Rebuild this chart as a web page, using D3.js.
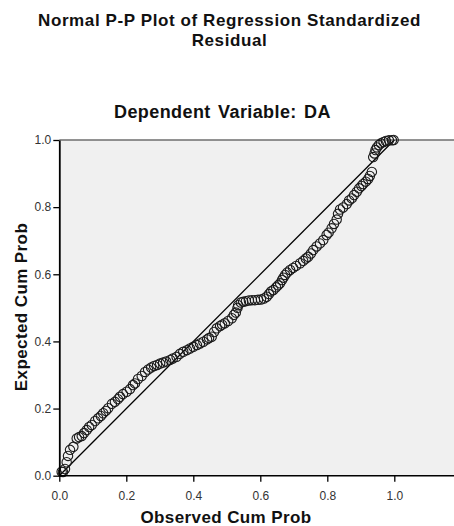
<!DOCTYPE html>
<html>
<head>
<meta charset="utf-8">
<script src="https://cdn.jsdelivr.net/npm/d3@7"></script>
<style>
  body { margin: 0; background: #fff; }
  text { font-family: "Liberation Sans", Arial, sans-serif; }
</style>
</head>
<body>
<svg id="chart" width="454" height="526"></svg>
<script>
// observed cum prob (x) and expected cum prob (y)
var observed = [
  0.007, 0.011, 0.017, 0.022, 0.026, 0.032, 0.042, 0.052, 0.059, 0.067,
  0.074, 0.082, 0.089, 0.097, 0.107, 0.116, 0.124, 0.131, 0.139, 0.146,
  0.157, 0.166, 0.175, 0.181, 0.190, 0.201, 0.211, 0.220, 0.226, 0.235,
  0.246, 0.256, 0.265, 0.274, 0.283, 0.292, 0.301, 0.310, 0.319, 0.331,
  0.339, 0.350, 0.360, 0.370, 0.381, 0.390, 0.400, 0.411, 0.420, 0.430,
  0.441, 0.447, 0.455, 0.462, 0.470, 0.480, 0.486, 0.494, 0.504, 0.515,
  0.521, 0.527, 0.532, 0.534, 0.542, 0.549, 0.557, 0.566, 0.575, 0.584,
  0.593, 0.602, 0.611, 0.619, 0.626, 0.632, 0.639, 0.647, 0.653, 0.659,
  0.665, 0.669, 0.674, 0.680, 0.689, 0.698, 0.707, 0.719, 0.728, 0.736,
  0.743, 0.751, 0.758, 0.768, 0.778, 0.788, 0.798, 0.804, 0.813, 0.820,
  0.828, 0.832, 0.838, 0.847, 0.858, 0.865, 0.873, 0.880, 0.888, 0.895,
  0.902, 0.907, 0.915, 0.922, 0.927, 0.933, 0.937, 0.941, 0.944, 0.948,
  0.954, 0.960, 0.968, 0.975, 0.984, 0.993, 0.998
];
var expected = [
  0.012, 0.011, 0.020, 0.040, 0.059, 0.077, 0.086, 0.111, 0.115, 0.118,
  0.127, 0.136, 0.145, 0.151, 0.163, 0.171, 0.178, 0.186, 0.193, 0.201,
  0.214, 0.220, 0.228, 0.235, 0.243, 0.250, 0.258, 0.270, 0.275, 0.288,
  0.297, 0.309, 0.316, 0.322, 0.327, 0.330, 0.334, 0.337, 0.340, 0.345,
  0.349, 0.354, 0.363, 0.369, 0.374, 0.379, 0.384, 0.389, 0.394, 0.399,
  0.406, 0.410, 0.414, 0.428, 0.439, 0.446, 0.450, 0.454, 0.461, 0.469,
  0.479, 0.486, 0.500, 0.508, 0.516, 0.518, 0.520, 0.522, 0.523, 0.523,
  0.524, 0.525, 0.528, 0.533, 0.541, 0.549, 0.553, 0.561, 0.567, 0.573,
  0.583, 0.590, 0.598, 0.605, 0.613, 0.619, 0.625, 0.633, 0.640, 0.647,
  0.652, 0.662, 0.672, 0.683, 0.692, 0.702, 0.717, 0.724, 0.737, 0.750,
  0.763, 0.780, 0.793, 0.799, 0.809, 0.820, 0.826, 0.836, 0.846, 0.856,
  0.863, 0.869, 0.876, 0.884, 0.893, 0.905, 0.949, 0.960, 0.970, 0.978,
  0.985, 0.990, 0.994, 0.997, 0.999, 0.999, 1.000
];
var xTicks = [0.0, 0.2, 0.4, 0.6, 0.8, 1.0];
var yTicks = [0.0, 0.2, 0.4, 0.6, 0.8, 1.0];
var refLine = [0, 1];

var svg = d3.select("#chart");
var W = 454;

var x = d3.scaleLinear().domain([0, 1]).range([59.3, 394.3]);
var y = d3.scaleLinear().domain([0, 1]).range([475.7, 140]);

function boldText(px, py, size, spacing, str) {
  return svg.append("text").attr("x", px).attr("y", py).attr("text-anchor", "middle")
    .attr("font-size", size).attr("font-weight", "bold").attr("fill", "#111")
    .attr("letter-spacing", spacing)
    .text(str);
}

// titles
boldText(229.5, 25.5, 17, 0.6, "Normal P-P Plot of Regression Standardized");
boldText(229.5, 45.5, 17, 0.6, "Residual");
boldText(222.5, 118, 18, 0.4, "Dependent Variable: DA").attr("word-spacing", 2);

// plot background
svg.append("rect")
  .attr("x", x(0)).attr("y", y(1))
  .attr("width", W - x(0)).attr("height", y(0) - y(1))
  .attr("fill", "#f0f0f0");

// top frame
svg.append("line")
  .attr("x1", x(0)).attr("x2", W).attr("y1", y(1)).attr("y2", y(1))
  .attr("stroke", "#6e6e6e").attr("stroke-width", 1.5);

// diagonal
svg.append("line")
  .attr("x1", x(refLine[0])).attr("y1", y(refLine[0]))
  .attr("x2", x(refLine[1])).attr("y2", y(refLine[1]))
  .attr("stroke", "#000").attr("stroke-width", 1.3);

// points
svg.append("g").selectAll("circle")
  .data(observed.map(function(d, i) { return [d, expected[i]]; }))
  .join("circle")
  .attr("cx", function(d) { return x(d[0]); })
  .attr("cy", function(d) { return y(d[1]); })
  .attr("r", 4.7)
  .attr("fill", "none")
  .attr("stroke", "#1a1a1a")
  .attr("stroke-width", 1.1);

// axes
var xAxis = svg.append("g").attr("transform", "translate(0," + y(0) + ")")
  .call(d3.axisBottom(x).tickValues(xTicks).tickFormat(d3.format(".1f")).tickSize(6).tickSizeOuter(0));
var yAxis = svg.append("g").attr("transform", "translate(" + x(0) + ",0)")
  .call(d3.axisLeft(y).tickValues(yTicks).tickFormat(d3.format(".1f")).tickSize(6).tickSizeOuter(0));

xAxis.select(".domain").attr("d", "M" + x(0) + ",0H" + W).attr("stroke", "#000").attr("stroke-width", 1.6);
yAxis.select(".domain").attr("stroke", "#000").attr("stroke-width", 1.8);
[xAxis, yAxis].forEach(function(a) {
  a.selectAll(".tick line").attr("stroke", "#000").attr("stroke-width", 1.3);
  a.selectAll(".tick text").attr("font-size", 12).attr("fill", "#333")
    .attr("font-family", "'Liberation Sans', Arial, sans-serif");
});
xAxis.selectAll(".tick text").attr("dy", "1.3em");
yAxis.selectAll(".tick text").attr("x", -8);

// axis titles
boldText(226, 523, 17, 0.4, "Observed Cum Prob");
boldText(0, 0, 17, 0.4, "Expected Cum Prob")
  .attr("transform", "translate(27,307) rotate(-90)");
</script>
</body>
</html>
